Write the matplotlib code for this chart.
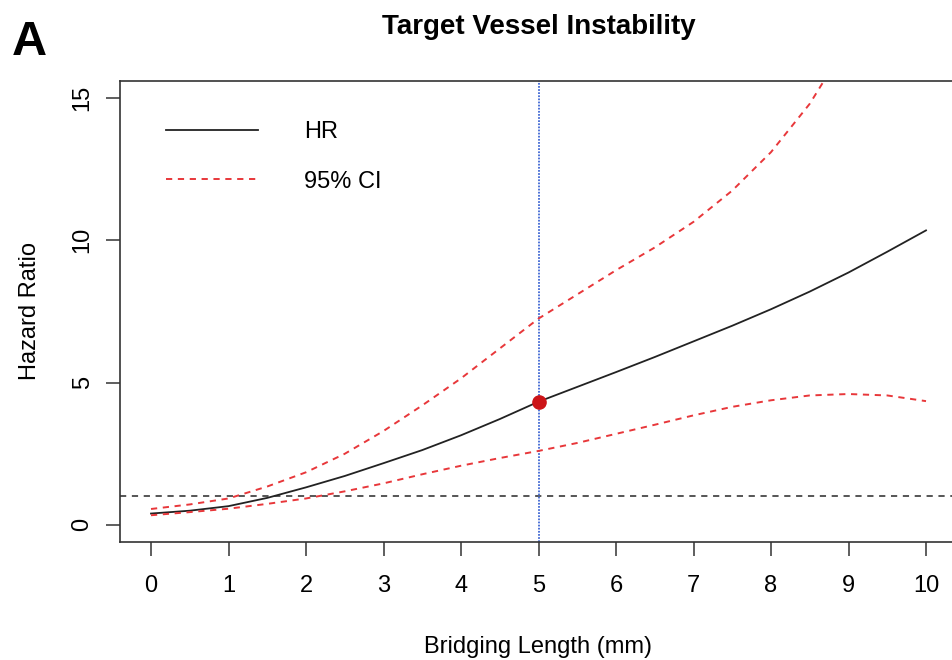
import matplotlib
matplotlib.use("Agg")
import matplotlib.pyplot as plt
import numpy as np

plt.rcParams['font.family'] = ['Liberation Sans', 'DejaVu Sans']

# Data
bridging_mm = [0, 0.5, 1, 1.5, 2, 2.5, 3, 3.5, 4, 4.5, 5, 5.5, 6, 6.5, 7, 7.5, 8, 8.5, 9, 9.5, 10]
hr = [0.4, 0.5, 0.66, 0.95, 1.32, 1.72, 2.17, 2.63, 3.15, 3.72, 4.33, 4.85, 5.37, 5.9, 6.45, 7.0, 7.58, 8.2, 8.87, 9.6, 10.35]
ci_upper = [0.56, 0.72, 0.93, 1.35, 1.85, 2.5, 3.3, 4.2, 5.15, 6.2, 7.25, 8.1, 8.95, 9.75, 10.65, 11.75, 13.1, 14.8, 17.0, 20.0, 24.0]
ci_lower = [0.34, 0.45, 0.57, 0.74, 0.93, 1.18, 1.46, 1.78, 2.08, 2.35, 2.6, 2.88, 3.2, 3.52, 3.85, 4.15, 4.38, 4.55, 4.6, 4.55, 4.35]
ref_x = 5
ref_hr = 4.33
hr_null = 1
x_ticks = [0, 1, 2, 3, 4, 5, 6, 7, 8, 9, 10]
y_ticks = [0, 5, 10, 15]

W, H = 952, 660
fig = plt.figure(figsize=(W / 100, H / 100), dpi=100)
left, right, top, bottom = 120, 957, 81, 542
ax = fig.add_axes([left / W, (H - bottom) / H, (right - left) / W, (bottom - top) / H])

red = '#e8373a'
ax.plot(bridging_mm, hr, color='#222222', lw=1.3, label='HR', zorder=3)
ax.plot(bridging_mm, ci_upper, color=red, lw=1.4, ls=(0, (3.2, 2.9)), label='95% CI', zorder=3)
ax.plot(bridging_mm, ci_lower, color=red, lw=1.4, ls=(0, (3.2, 2.9)), zorder=3)
ax.axhline(hr_null, color='#555555', lw=1.4, ls=(0, (3.2, 2.9)), zorder=2)
ax.axvline(ref_x, color='#4d72d6', lw=1.4, ls=(0, (0.9, 0.7)), zorder=2)
ax.plot([ref_x], [ref_hr], 'o', color='#cc1417', ms=9.5, zorder=4)

ax.set_xlim(-0.4, 10.4)
ax.set_ylim(-0.6, 15.6)
ax.set_xticks(x_ticks)
ax.set_yticks(y_ticks)
ax.tick_params(axis='both', direction='out', length=10, width=1.1, color='#333333', labelsize=17)
ax.tick_params(axis='x', pad=14)
ax.tick_params(axis='y', pad=9)
for lab in ax.get_yticklabels():
    lab.set_rotation(90)
    lab.set_va('center')
for s in ax.spines.values():
    s.set_color('#333333')
    s.set_linewidth(1.2)

ax.set_xlabel('Bridging Length (mm)', fontsize=17, labelpad=28)
ax.set_ylabel('Hazard Ratio', fontsize=17, labelpad=22)
ax.set_title('Target Vessel Instability', fontsize=20, fontweight='bold', pad=34)

leg = ax.legend(loc='upper left', bbox_to_anchor=(0.055, 0.913), frameon=False, fontsize=17,
                handlelength=3.9, handletextpad=1.95, labelspacing=1.17, borderpad=0, borderaxespad=0)

fig.text(12 / W, (H - 55) / H, 'A', fontsize=35, fontweight='bold')

fig.savefig('out.png', dpi=100)
